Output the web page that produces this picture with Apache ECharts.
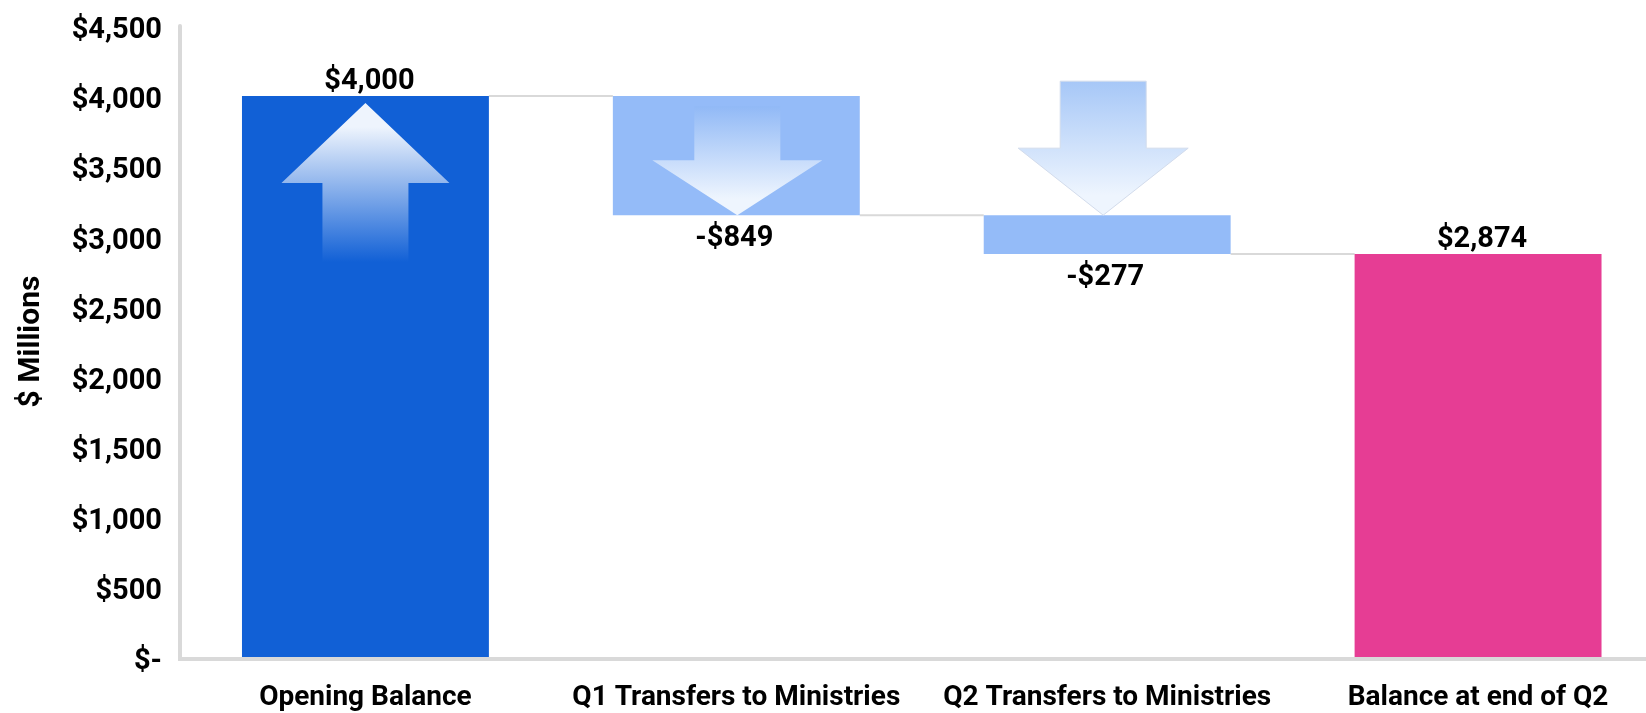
<!DOCTYPE html>
<html>
<head>
<meta charset="utf-8">
<style>
  html, body { margin: 0; padding: 0; background: #fff; }
  #chart { width: 1646px; height: 713px; }
</style>
<script src="https://cdn.jsdelivr.net/npm/echarts@6/dist/echarts.min.js"></script>
</head>
<body>
<div id="chart"></div>
<script>
const categories = ['Opening Balance', 'Q1 Transfers to Ministries', 'Q2 Transfers to Ministries', 'Balance at end of Q2'];
const changes = [4000, -849, -277, 2874];
const hiddenBase = [0, 3151, 2874, 0];
const barHeights = [4000, 849, 277, 2874];
const barLabels = ['$4,000', '-$849', '-$277', '$2,874'];
const barColors = ['#1160d6', '#94bbf8', '#94bbf8', '#e63d94'];
const connectorLevels = [4000, 3151, 2874];
const valueTicks = [0, 500, 1000, 1500, 2000, 2500, 3000, 3500, 4000, 4500];

const FONT = 'Roboto, "Liberation Sans", sans-serif';
const GREY = '#d9d9d9';
const BAR_SHARE = 247 / 371;

// tip value and pixel shape of the decorative block arrows
const arrows = [
    { cat: 0, tip: 3950, dir: 'up', dx: 0, headLen: 80, tailLen: 79, headW: 84, shaftW: 43, tipColor: '#eef4fd', endColor: '#1160d6', outline: null },
    { cat: 1, tip: 3151, dir: 'down', dx: 1, headLen: 55, tailLen: 54, headW: 85, shaftW: 43, tipColor: '#eef5fe', endColor: '#91b9f6', outline: null },
    { cat: 2, tip: 3151, dir: 'down', dx: -4, headLen: 67, tailLen: 67, headW: 85, shaftW: 43, tipColor: '#eef5fe', endColor: '#a6c7f7', outline: '#d3dcec' }
];

function formatTick(v) {
    return v === 0 ? '$-' : '$' + v.toLocaleString('en-US');
}

function renderConnector(params, api) {
    const i = params.dataIndex;
    const band = api.size([1, 0])[0];
    const a = api.coord([i, api.value(1)]);
    const b = api.coord([i + 1, api.value(1)]);
    return {
        type: 'line',
        shape: { x1: a[0] + band * BAR_SHARE / 2, y1: a[1], x2: b[0] - band * BAR_SHARE / 2, y2: b[1] },
        style: { stroke: GREY, lineWidth: 2 }
    };
}

function renderArrow(params, api) {
    const a = arrows[params.dataIndex];
    const p = api.coord([a.cat, a.tip]);
    const x = p[0] + a.dx, y = p[1];
    const s = a.dir === 'up' ? 1 : -1;
    const base = y + s * a.headLen, end = base + s * a.tailLen;
    const points = [
        [x, y], [x + a.headW, base], [x + a.shaftW, base], [x + a.shaftW, end],
        [x - a.shaftW, end], [x - a.shaftW, base], [x - a.headW, base]
    ];
    // the tip stays pale for a little before the fade starts
    const stops = a.dir === 'up'
        ? [{ offset: 0, color: a.tipColor }, { offset: 0.15, color: a.tipColor }, { offset: 1, color: a.endColor }]
        : [{ offset: 0, color: a.endColor }, { offset: 0.85, color: a.tipColor }, { offset: 1, color: a.tipColor }];
    return {
        type: 'polygon',
        z2: 5,
        shape: { points: points },
        style: {
            fill: new echarts.graphic.LinearGradient(0, 0, 0, 1, stops),
            stroke: a.outline || 'none',
            lineWidth: a.outline ? 1 : 0
        }
    };
}

const chart = echarts.init(document.getElementById('chart'));
chart.setOption({
    animation: false,
    backgroundColor: '#fff',
    textStyle: { fontFamily: FONT },
    grid: { left: 180, top: 26, width: 1483.5, height: 631, outerBoundsMode: 'none' },
    xAxis: {
        type: 'category',
        data: categories,
        offset: 2,
        axisLine: { onZero: false, lineStyle: { color: GREY, width: 4, cap: 'square' } },
        axisTick: { show: false },
        axisLabel: { color: '#000', fontFamily: FONT, fontWeight: 'bold', fontSize: 28, margin: 25, interval: 0 }
    },
    yAxis: {
        type: 'value',
        min: 0,
        max: 4500,
        interval: 500,
        name: '$ Millions',
        nameLocation: 'middle',
        nameGap: 134,
        nameTextStyle: { color: '#000', fontFamily: FONT, fontWeight: 'bold', fontSize: 30 },
        axisLine: { show: true, lineStyle: { color: GREY, width: 4 } },
        axisTick: { show: false },
        splitLine: { show: false },
        axisLabel: {
            color: '#000', fontFamily: FONT, fontWeight: 'bold', fontSize: 29, margin: 18,
            verticalAlign: 'top',
            lineHeight: 10,
            formatter: v => valueTicks.includes(v) ? formatTick(v) : ''
        }
    },
    series: [
        {
            type: 'bar',
            stack: 'total',
            barWidth: (BAR_SHARE * 100) + '%',
            silent: true,
            itemStyle: { color: 'transparent' },
            data: hiddenBase
        },
        {
            type: 'bar',
            stack: 'total',
            data: barHeights.map((v, i) => ({
                value: v,
                itemStyle: { color: barColors[i] },
                label: {
                    show: true,
                    position: changes[i] < 0 ? 'bottom' : 'top',
                    distance: changes[i] < 0 ? 9 : 0,
                    offset: changes[i] < 0 ? [-2, 0] : [4, 0],
                    formatter: barLabels[i],
                    color: '#000',
                    fontFamily: FONT,
                    fontWeight: 'bold',
                    fontSize: 29
                }
            }))
        },
        {
            type: 'custom',
            renderItem: renderConnector,
            coordinateSystem: 'cartesian2d',
            silent: true,
            data: connectorLevels.map((v, i) => [i, v])
        },
        {
            type: 'custom',
            renderItem: renderArrow,
            coordinateSystem: 'cartesian2d',
            silent: true,
            z: 5,
            data: arrows.map(a => [a.cat, a.tip])
        }
    ]
});
</script>
</body>
</html>
